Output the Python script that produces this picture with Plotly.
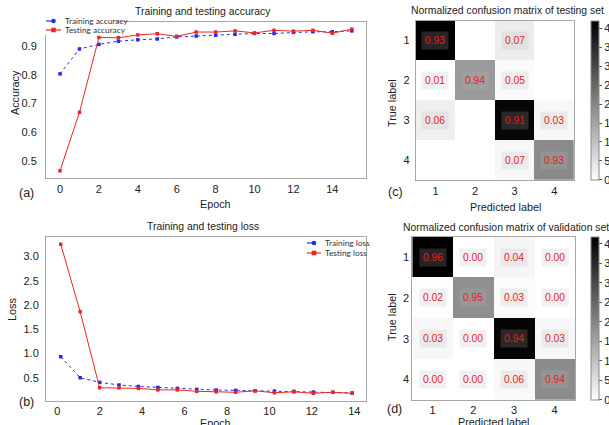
import plotly.graph_objects as go

# ---------------- data ----------------
epochs = list(range(16))
train_acc = [0.803, 0.890, 0.906, 0.917, 0.922, 0.925, 0.932, 0.935, 0.938, 0.941,
             0.944, 0.944, 0.948, 0.950, 0.950, 0.953]
test_acc = [0.465, 0.669, 0.930, 0.929, 0.939, 0.943, 0.934, 0.949, 0.949, 0.953,
            0.946, 0.955, 0.952, 0.955, 0.945, 0.959]
train_loss = [0.934, 0.500, 0.405, 0.350, 0.320, 0.300, 0.280, 0.260, 0.246, 0.240,
              0.230, 0.225, 0.220, 0.205, 0.200, 0.185]
test_loss = [3.256, 1.864, 0.293, 0.290, 0.280, 0.250, 0.250, 0.220, 0.210, 0.200,
             0.230, 0.190, 0.210, 0.180, 0.200, 0.180]
loss_tick_labels = [0, 2, 4, 6, 8, 10, 12, 14]

classes = [1, 2, 3, 4]
test_norm = [[0.93, None, 0.07, None],
             [0.01, 0.94, 0.05, None],
             [0.06, None, 0.91, 0.03],
             [None, None, 0.07, 0.93]]
test_counts = [[420, 0, 32, 0],
               [2, 166, 9, 0],
               [27, 0, 410, 14],
               [0, 0, 14, 193]]
val_norm = [[0.96, 0.00, 0.04, 0.00],
            [0.02, 0.95, 0.03, 0.00],
            [0.03, 0.00, 0.94, 0.03],
            [0.00, 0.00, 0.06, 0.94]]
val_counts = [[418, 0, 17, 0],
              [4, 183, 6, 0],
              [13, 0, 410, 13],
              [0, 0, 12, 190]]
cbar_ticks = [0, 50, 100, 150, 200, 250, 300, 350, 400]

# ---------------- helpers ----------------
W, H = 609, 425
FONT = "Liberation Sans, Arial, sans-serif"
BLUE = "rgb(40,40,240)"
RED = "rgb(232,40,40)"
BORDER = "#a6a6a6"


def px(x):
    return x / W


def py(y):
    return 1 - y / H


fig = go.Figure()

# (a) accuracy
fig.add_trace(go.Scatter(x=epochs, y=train_acc, mode="lines+markers", name="Training accuracy",
                         line=dict(color=BLUE, width=1, dash="dot"),
                         marker=dict(color=BLUE, size=3.5, symbol="square"),
                         xaxis="x", yaxis="y", showlegend=False))
fig.add_trace(go.Scatter(x=epochs, y=test_acc, mode="lines+markers", name="Testing accuracy",
                         line=dict(color=RED, width=1),
                         marker=dict(color=RED, size=3.5, symbol="square"),
                         xaxis="x", yaxis="y", showlegend=False))
# (b) loss
fig.add_trace(go.Scatter(x=epochs, y=train_loss, mode="lines+markers", name="Training loss",
                         line=dict(color=BLUE, width=1, dash="dot"),
                         marker=dict(color=BLUE, size=3.5, symbol="square"),
                         xaxis="x2", yaxis="y2", showlegend=False))
fig.add_trace(go.Scatter(x=epochs, y=test_loss, mode="lines+markers", name="Testing loss",
                         line=dict(color=RED, width=1),
                         marker=dict(color=RED, size=3.5, symbol="square"),
                         xaxis="x2", yaxis="y2", showlegend=False))

gray_scale = [[0, "#ffffff"], [1, "#000000"]]


def cbar(top, bottom):
    return dict(thickness=8, thicknessmode="pixels",
                len=(bottom - top) / H, lenmode="fraction",
                x=px(591), xanchor="left", xpad=0, ypad=0,
                y=py((top + bottom) / 2), yanchor="middle",
                outlinecolor="#8a8a8a", outlinewidth=1,
                ticks="outside", ticklen=3, tickcolor="#555",
                tickvals=cbar_ticks, tickfont=dict(size=11, family=FONT, color="#222"))


fig.add_trace(go.Heatmap(x=classes, y=classes, z=test_counts, colorscale=gray_scale,
                         zmin=0, zmax=420, xaxis="x3", yaxis="y3",
                         colorbar=cbar(20.7, 180), hoverinfo="skip"))
fig.add_trace(go.Heatmap(x=classes, y=classes, z=val_counts, colorscale=gray_scale,
                         zmin=0, zmax=418, xaxis="x4", yaxis="y4",
                         colorbar=cbar(236.7, 400), hoverinfo="skip"))

annotations = []
for norm, xa, ya in ((test_norm, "x3", "y3"), (val_norm, "x4", "y4")):
    for i, row in enumerate(norm):
        for j, v in enumerate(row):
            if v is None:
                continue
            annotations.append(dict(x=classes[j], y=classes[i], xref=xa, yref=ya,
                                    text=f"{v:.2f}", showarrow=False,
                                    font=dict(size=10.3, color="rgb(230,30,30)", family=FONT),
                                    bgcolor="rgba(187,187,187,0.2)", borderpad=3))


def txt(x, y, s, size=10.5, angle=0, xanchor="center", family=FONT, color="#222"):
    annotations.append(dict(x=px(x), y=py(y), xref="paper", yref="paper", text=s,
                            showarrow=False, textangle=angle, xanchor=xanchor,
                            yanchor="middle", font=dict(size=size, family=family, color=color)))


# titles and labels
txt(203, 12, "Training and testing accuracy", 10.4)
txt(203, 227, "Training and testing loss", 10.4)
txt(507, 10, "Normalized confusion matrix of testing set", 10.4)
txt(506, 227.3, "Normalized confusion matrix of validation set", 10.4)
txt(215, 204, "Epoch", 10.8)
txt(215, 423, "Epoch", 10.8)
txt(15, 93, "Accuracy", 10.8, angle=-90)
txt(12, 310, "Loss", 10.8, angle=-90)
txt(392, 103, "True label", 10.8, angle=-90)
txt(392, 317, "True label", 10.8, angle=-90)
txt(505, 207, "Predicted label", 10.8)
txt(493, 422, "Predicted label", 10.8)
txt(26, 192.7, "(a)", 12.5)
txt(26, 401.7, "(b)", 12.5)
txt(395, 191.7, "(c)", 12.5)
txt(394, 409, "(d)", 12.5)

# manual compact legends
LEGF = "Lato, Open Sans, sans-serif"
shapes = [dict(type="rect", xref="paper", yref="paper", x0=px(44), x1=px(115),
               y0=py(35), y1=py(16), fillcolor="white", line=dict(width=0), layer="above")]


def leg_item(x0, x1, y, color, dash, symbol, label):
    shapes.append(dict(type="line", xref="paper", yref="paper", x0=px(x0), x1=px(x1),
                       y0=py(y), y1=py(y), line=dict(color=color, width=1.2, dash=dash),
                       layer="above"))
    m = (x0 + x1) / 2
    shapes.append(dict(type="circle" if symbol == "circle" else "rect", xref="paper",
                       yref="paper", x0=px(m - 2.3), x1=px(m + 2.3), y0=py(y + 2.3),
                       y1=py(y - 2.3), fillcolor=color, line=dict(width=0), layer="above"))
    txt(x1 + 2, y, label, 8.3, xanchor="left", family=LEGF, color="#333")


leg_item(46, 61, 21, BLUE, "dash", "circle", "Training accuracy")
leg_item(46, 61, 30, RED, "solid", "square", "Testing accuracy")
leg_item(307, 321, 243, BLUE, "dash", "circle", "Training loss")
leg_item(307, 321, 253, RED, "solid", "square", "Testing loss")

axis_common = dict(showline=True, linecolor=BORDER, linewidth=1, mirror=True,
                   showgrid=False, zeroline=False,
                   tickfont=dict(size=11, family=FONT, color="#222"),
                   ticks="outside", tickcolor="rgba(0,0,0,0)")

# loss axis: labels spaced independently from epoch points (as in the original)
loss_tickvals = [(57.3 + 21.21 * L - 60.7) / 19.43 for L in loss_tick_labels]

fig.update_layout(
    width=W, height=H, margin=dict(l=0, r=0, t=0, b=0, autoexpand=False),
    paper_bgcolor="white", plot_bgcolor="white", showlegend=False,
    font=dict(family=FONT, color="#222"),
    xaxis=dict(domain=[px(46), px(366)], range=[-0.72, 15.73], anchor="y",
               tickvals=list(range(0, 15, 2)), ticklen=1, **axis_common),
    yaxis=dict(domain=[py(178), py(22)], range=[0.44, 0.984], anchor="x",
               tickvals=[0.5, 0.6, 0.7, 0.8, 0.9], ticklen=6, **axis_common),
    xaxis2=dict(domain=[px(46), px(366)], range=[-0.757, 15.71], anchor="y2",
                tickvals=loss_tickvals, ticktext=[str(v) for v in loss_tick_labels],
                ticklen=0, **axis_common),
    yaxis2=dict(domain=[py(401), py(236.7)], range=[0.02, 3.41], anchor="x2",
                tickvals=[0.5, 1.0, 1.5, 2.0, 2.5, 3.0], tickformat=".1f", ticklen=4,
                **axis_common),
    xaxis3=dict(domain=[px(415.7), px(574)], range=[0.5, 4.5], anchor="y3",
                tickvals=classes, ticklen=1, **axis_common),
    yaxis3=dict(domain=[py(180), py(20.7)], range=[4.5, 0.5], anchor="x3",
                tickvals=classes, ticklen=3, **axis_common),
    xaxis4=dict(domain=[px(412.3), px(575)], range=[0.5, 4.5], anchor="y4",
                tickvals=classes, ticklen=0, **axis_common),
    yaxis4=dict(domain=[py(400), py(236.7)], range=[4.5, 0.5], anchor="x4",
                tickvals=classes, ticklen=0, **axis_common),
    annotations=annotations, shapes=shapes,
)

fig.write_html("out.html")
